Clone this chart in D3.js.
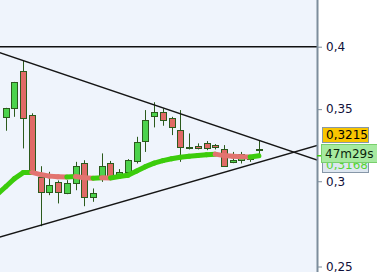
<!DOCTYPE html>
<html>
<head>
<meta charset="utf-8">
<script src="https://cdn.jsdelivr.net/npm/d3@7"></script>
<style>
body { margin: 0; background: #fff; }
svg { display: block; font-family: "DejaVu Sans", sans-serif; }
</style>
</head>
<body>
<svg id="chart" width="377" height="272"></svg>
<script>
// candles, oldest first
var opens  = [0.3439, 0.3506, 0.3799, 0.3454, 0.3025, 0.2929, 0.2992, 0.2923, 0.2986, 0.3116,
              0.2898, 0.3028, 0.3120, 0.3033, 0.3061, 0.3136, 0.3271, 0.3446, 0.3476, 0.3432,
              0.3347, 0.3220, 0.3234, 0.3257, 0.3241, 0.3213, 0.3129, 0.3138, 0.3145, 0.3204];
var highs  = [0.3510, 0.3710, 0.3882, 0.3469, 0.3098, 0.3061, 0.3005, 0.3007, 0.3127, 0.3138,
              0.2954, 0.3184, 0.3133, 0.3079, 0.3145, 0.3299, 0.3493, 0.3552, 0.3506, 0.3443,
              0.3493, 0.3323, 0.3253, 0.3269, 0.3248, 0.3241, 0.3194, 0.3194, 0.3172, 0.3276];
var lows   = [0.3342, 0.3443, 0.3218, 0.3057, 0.2725, 0.2912, 0.2861, 0.2918, 0.2943, 0.2844,
              0.2871, 0.2996, 0.3013, 0.3020, 0.3052, 0.3116, 0.3194, 0.3366, 0.3378, 0.3311,
              0.3127, 0.3211, 0.3211, 0.3206, 0.3211, 0.3098, 0.3118, 0.3116, 0.3127, 0.3172];
var closes = [0.3506, 0.3707, 0.3432, 0.3059, 0.2932, 0.2975, 0.2929, 0.2986, 0.3098, 0.2898,
              0.2923, 0.3098, 0.3020, 0.3061, 0.3138, 0.3260, 0.3417, 0.3476, 0.3417, 0.3366,
              0.3225, 0.3227, 0.3218, 0.3222, 0.3225, 0.3100, 0.3138, 0.3179, 0.3152, 0.3215];

// moving average, starts one candle before the first visible one
var maStart = -1;
var maValues = [0.2915, 0.2965, 0.3017, 0.3056, 0.3057, 0.3043, 0.3033, 0.3029, 0.3027, 0.3030,
                0.3023, 0.3020, 0.3023, 0.3021, 0.3030, 0.3038, 0.3066, 0.3095, 0.3118, 0.3135,
                0.3148, 0.3158, 0.3165, 0.3170, 0.3175, 0.3179, 0.3169, 0.3165, 0.3162, 0.3160, 0.3168];

// drawn lines: [candle index, price]
var upperTrend = [[-1, 0.3957], [36, 0.3132]];
var lowerTrend = [[-1, 0.2658], [36, 0.3244]];
var levelLine = 0.4;

var priceTicks = [0.25, 0.3, 0.35, 0.4];
var lastPrice = 0.3215;
var maLast = 0.3168;
var timerText = "47m29s";

var width = 377, height = 272;
var plotRight = 317;

var svg = d3.select("#chart");

var x = d3.scaleLinear().domain([0, 29]).range([5.7, 258.9]);
var y = d3.scaleLog().domain([0.25, 0.4]).range([266.5, 46.7]);

var green = "#4cd24c", red = "#e06a66", outline = "#2b5a1c";

svg.append("rect")
    .attr("width", plotRight).attr("height", height)
    .attr("fill", "#eff4fc");

svg.append("defs").append("clipPath").attr("id", "plotclip")
    .append("rect").attr("width", plotRight).attr("height", height);

var plot = svg.append("g").attr("clip-path", "url(#plotclip)");

var candles = d3.range(opens.length).map(function(i) {
    return {i: i, o: opens[i], h: highs[i], l: lows[i], c: closes[i]};
});

// wicks
plot.selectAll("line.wick")
    .data(candles)
    .enter()
    .append("line")
    .attr("class", "wick")
    .attr("x1", d => Math.round(x(d.i)) + 0.5)
    .attr("x2", d => Math.round(x(d.i)) + 0.5)
    .attr("y1", d => y(d.h))
    .attr("y2", d => y(d.l))
    .attr("stroke", outline)
    .attr("stroke-width", 1);

// bodies
plot.selectAll("rect.body")
    .data(candles)
    .enter()
    .append("rect")
    .attr("class", "body")
    .attr("x", d => Math.round(x(d.i)) - 2.5)
    .attr("y", d => Math.round(y(Math.max(d.o, d.c))) + 0.5)
    .attr("width", 6)
    .attr("height", d => Math.max(1, Math.round(y(Math.min(d.o, d.c))) - Math.round(y(Math.max(d.o, d.c)))))
    .attr("fill", d => d.c >= d.o ? green : red)
    .attr("stroke", outline)
    .attr("stroke-width", 1);

// moving average, coloured by direction
var maSegs = [];
for (var k = 0; k < maValues.length - 1; k++) {
    maSegs.push({a: maStart + k, v0: maValues[k], v1: maValues[k + 1]});
}
plot.selectAll("line.ma")
    .data(maSegs)
    .enter()
    .append("line")
    .attr("class", "ma")
    .attr("x1", d => x(d.a))
    .attr("y1", d => y(d.v0))
    .attr("x2", d => x(d.a + 1))
    .attr("y2", d => y(d.v1))
    .attr("stroke", d => d.v1 >= d.v0 ? "#3ccc0c" : "#e27470")
    .attr("stroke-width", 5)
    .attr("stroke-linecap", "round");

// horizontal level and trend lines
plot.append("line")
    .attr("x1", 0).attr("x2", plotRight)
    .attr("y1", y(levelLine)).attr("y2", y(levelLine))
    .attr("stroke", "#111").attr("stroke-width", 1.5);

var trendLine = d3.line().x(d => x(d[0])).y(d => y(d[1]));
[upperTrend, lowerTrend].forEach(function(t) {
    plot.append("path")
        .attr("d", trendLine(t))
        .attr("fill", "none")
        .attr("stroke", "#151515")
        .attr("stroke-width", 1.4);
});

// price axis
var axis = svg.append("g")
    .attr("transform", "translate(" + plotRight + ",0)")
    .call(d3.axisRight(y)
        .tickValues(priceTicks)
        .tickSize(5)
        .tickPadding(4)
        .tickFormat(d => String(d).replace(".", ",")));
axis.select(".domain").remove();
axis.selectAll(".tick line").attr("stroke", "#7d8d9c");
axis.selectAll(".tick text")
    .attr("fill", "#10103a")
    .style("font-size", "12px")
    .style("font-family", "'DejaVu Sans', sans-serif");

svg.append("line")
    .attr("x1", plotRight + 0.5).attr("x2", plotRight + 0.5)
    .attr("y1", 0).attr("y2", height)
    .attr("stroke", "#7d8d9c").attr("stroke-width", 2);

// MA marker on axis
svg.append("line")
    .attr("x1", plotRight).attr("x2", plotRight + 5)
    .attr("y1", y(maLast)).attr("y2", y(maLast))
    .attr("stroke", "#3ccc0c").attr("stroke-width", 1.5);

// labels on axis
function tag(top, h, fill, stroke, txt, color, x0, w) {
    svg.append("rect")
        .attr("x", x0 + 0.5).attr("y", Math.round(top) + 0.5)
        .attr("width", w).attr("height", h)
        .attr("fill", fill).attr("stroke", stroke);
    svg.append("text")
        .attr("x", x0 + 4).attr("y", Math.round(top) + h / 2 + 1)
        .attr("dominant-baseline", "middle")
        .attr("fill", color)
        .style("font-size", "12px")
        .text(txt);
}
var yp = y(lastPrice);
tag(y(maLast) + 1, 15, "#dde6f0", "#8797a8", String(maLast).replace(".", ","), "#55d633", 322, 46);
tag(yp - 21.5, 15, "#f8c500", "#8797a8", String(lastPrice).replace(".", ","), "#000", 322, 46);
tag(yp - 5, 18, "#a6eaa0", "#78cf6c", timerText, "#0b250b", 321, 56);
</script>
</body>
</html>
